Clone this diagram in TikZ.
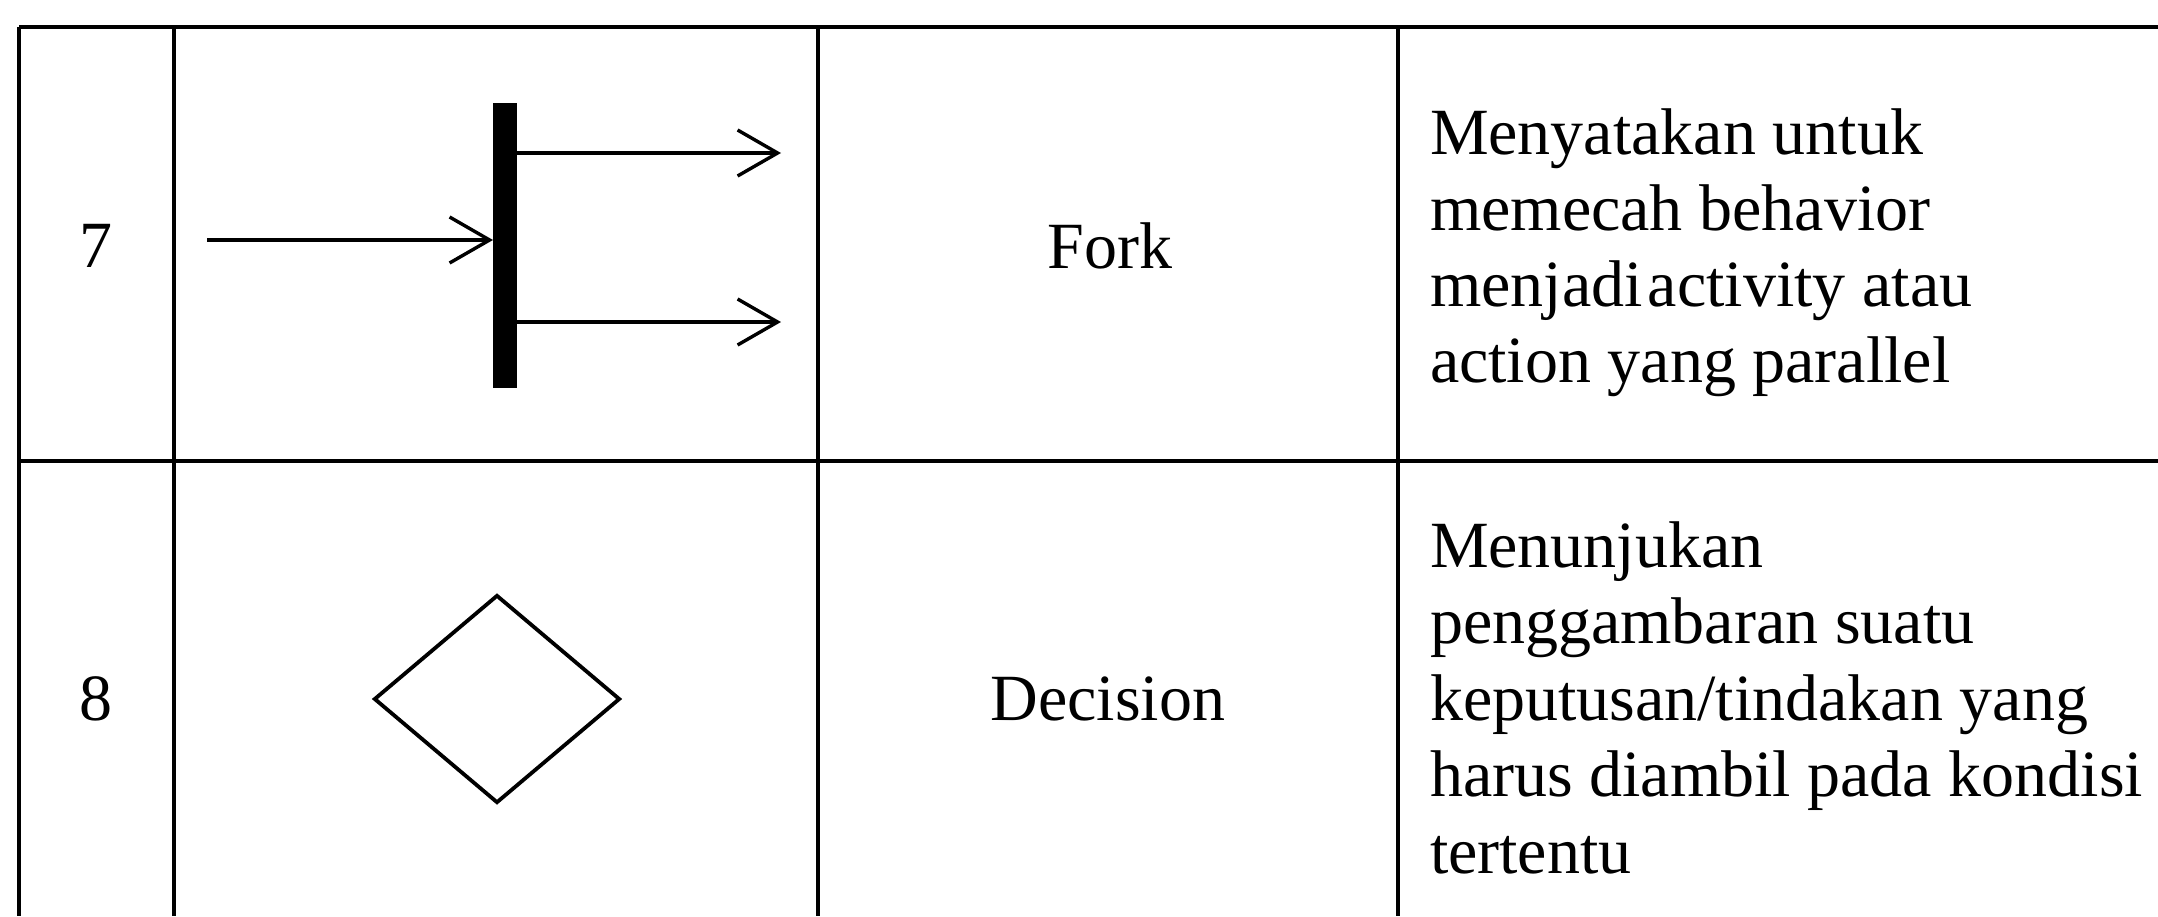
\documentclass[tikz,border=0pt]{standalone}
\usepackage{fontspec}
\setmainfont{Liberation Serif}
\usetikzlibrary{arrows.meta,shapes.geometric}

\tikzset{
  rule/.style={line width=1.7pt, black},
  toprule/.style={line width=2.4pt, black},
  cell/.style={inner sep=0pt, outer sep=0pt, font=\fontsize{33pt}{38pt}\selectfont},
  numtext/.style={cell, anchor=base},
  nametext/.style={cell, anchor=base},
  desctext/.style={cell, anchor=base west},
  forkbar/.style={rectangle, fill=black, draw=none, inner sep=0pt, outer sep=0pt,
                  minimum width=12pt, minimum height=142.5pt},
  flow/.style={line width=1.7pt, -{Straight Barb[length=20pt, width=23pt]}},
  decisionbox/.style={diamond, draw, line width=1.9pt, inner sep=0pt,
                      minimum width=123pt, minimum height=104pt},
}

\begin{document}
\begin{tikzpicture}[x=0.5pt, y=-0.5pt]
\useasboundingbox (0,0) rectangle (2158,916);

% table rules
\draw[toprule] (19,27) -- (2158,27);
\draw[rule] (19,461) -- (2158,461);
\foreach \cx in {19,174,818,1398}
  \draw[rule] (\cx,27) -- (\cx,916);

% row 7: fork
\node[numtext] (n7) at (96,267) {7};
\node[forkbar] (bar) at (505,245.5) {};
\coordinate (forkin) at (207,240);
\coordinate (forkup) at (781,153);
\coordinate (forkdown) at (781,322);
\draw[flow] (forkin) -- (forkin -| bar.west);
\draw[flow] (bar.east |- forkup) -- (forkup);
\draw[flow] (bar.east |- forkdown) -- (forkdown);
\node[nametext] (fork) at (1110,268) {Fork};
\node[desctext] (f1) at (1430,154) {Menyatakan untuk};
\node[desctext] (f2) at (1430,230) {memecah behavior};
\node[desctext] (f3) at (1430,306) {menjadi\hspace{0.08em}activity atau};
\node[desctext] (f4) at (1430,382) {action yang parallel};

% row 8: decision
\node[numtext] (n8) at (96,720) {8};
\node[decisionbox] (dec) at (497,699) {};
\node[nametext] (decision) at (1108,720) {Decision};
\node[desctext] (d1) at (1430,567) {Menunjukan};
\node[desctext] (d2) at (1430,643) {penggambaran suatu};
\node[desctext] (d3) at (1430,720) {keputusan/tindakan yang};
\node[desctext] (d4) at (1430,796) {harus diambil pada kondisi};
\node[desctext] (d5) at (1430,873) {tertentu};
\end{tikzpicture}
\end{document}
